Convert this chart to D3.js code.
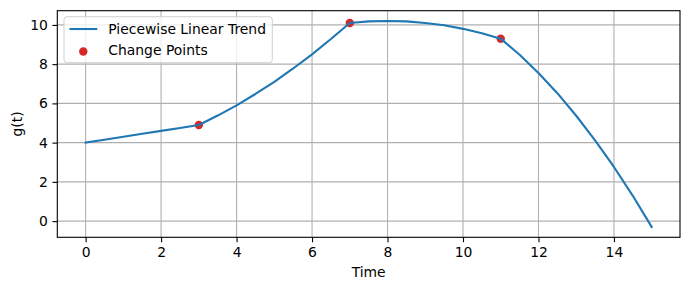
<!DOCTYPE html>
<html>
<head>
<meta charset="utf-8">
<script src="https://cdn.jsdelivr.net/npm/d3@7"></script>
<style>
  body { margin: 0; background: #fff; }
  text { font-family: "DejaVu Sans", sans-serif; }
</style>
</head>
<body>
<div id="chart"></div>
<script>
// trend values
var times = [0, 0.5, 1, 1.5, 2, 2.5, 3,
  3.5, 4, 4.5, 5, 5.5, 6, 6.5, 7,
  7.5, 8, 8.5, 9, 9.5, 10, 10.5, 11,
  11.5, 12, 12.5, 13, 13.5, 14, 14.5, 15];
var trend = [4.0, 4.15, 4.3, 4.45, 4.6, 4.75, 4.9,
  5.38, 5.9, 6.48, 7.1, 7.78, 8.5, 9.28, 10.1,
  10.18, 10.2, 10.18, 10.1, 9.98, 9.8, 9.58, 9.3,
  8.48, 7.55, 6.52, 5.37, 4.12, 2.76, 1.29, -0.3];

var changeTimes = [3, 7, 11];
var changeValues = [4.9, 10.1, 9.3];

var xTicks = [0, 2, 4, 6, 8, 10, 12, 14];
var yTicks = [0, 2, 4, 6, 8, 10];

var W = 690, H = 290;
var margin = { top: 10.7, right: 10, bottom: 52.7, left: 57.3 },
  width = W - margin.left - margin.right,
  height = H - margin.top - margin.bottom;

var svg = d3.select("#chart")
  .append("svg")
  .attr("width", W)
  .attr("height", H);

var g = svg.append("g")
  .attr("transform", "translate(" + margin.left + "," + margin.top + ")");

var x = d3.scaleLinear().domain([-0.75, 15.75]).range([0, width]);
var y = d3.scaleLinear().domain([-0.825, 10.725]).range([height, 0]);

// grid
g.selectAll(".gx").data(xTicks).enter().append("line")
  .attr("x1", function (d) { return x(d); })
  .attr("x2", function (d) { return x(d); })
  .attr("y1", 0).attr("y2", height)
  .attr("stroke", "#b0b0b0").attr("stroke-width", 1.1);
g.selectAll(".gy").data(yTicks).enter().append("line")
  .attr("y1", function (d) { return y(d); })
  .attr("y2", function (d) { return y(d); })
  .attr("x1", 0).attr("x2", width)
  .attr("stroke", "#b0b0b0").attr("stroke-width", 1.1);

// axes
var xAxis = g.append("g")
  .attr("transform", "translate(0," + height + ")")
  .call(d3.axisBottom(x).tickValues(xTicks).tickSize(4.9).tickPadding(4.5).tickFormat(d3.format("d")));
var yAxis = g.append("g")
  .call(d3.axisLeft(y).tickValues(yTicks).tickSize(4.9).tickPadding(4.5).tickFormat(d3.format("d")));
[xAxis, yAxis].forEach(function (a) {
  a.select(".domain").remove();
  a.selectAll("line").attr("stroke", "#000").attr("stroke-width", 1.1);
  a.selectAll("text").attr("font-size", "13.9px").attr("fill", "#000")
    .style("font-family", "DejaVu Sans, sans-serif");
});

// change points (under the line, like matplotlib's zorder)
g.selectAll(".cp").data(changeValues).enter().append("circle")
  .attr("cx", function (d, i) { return x(changeTimes[i]); })
  .attr("cy", function (d) { return y(d); })
  .attr("r", 4.2)
  .attr("fill", "#d62728");

// line
var line = d3.line()
  .x(function (d, i) { return x(times[i]); })
  .y(function (d) { return y(d); });
g.append("path")
  .datum(trend)
  .attr("d", line)
  .attr("fill", "none")
  .attr("stroke", "#1f77b4")
  .attr("stroke-width", 2.1)
  .attr("stroke-linejoin", "round")
  .attr("stroke-linecap", "square");

// frame
g.append("rect")
  .attr("width", width).attr("height", height)
  .attr("fill", "none").attr("stroke", "#000").attr("stroke-width", 1.1);

// axis labels
svg.append("text")
  .attr("x", margin.left + width / 2).attr("y", 276.5)
  .attr("text-anchor", "middle").attr("font-size", "13.9px")
  .text("Time");
svg.append("text")
  .attr("transform", "translate(22," + (margin.top + height / 2) + ") rotate(-90)")
  .attr("text-anchor", "middle").attr("font-size", "13.9px")
  .text("g(t)");

// legend
var lg = svg.append("g");
lg.append("rect")
  .attr("x", 64).attr("y", 16.7).attr("width", 208.3).attr("height", 46)
  .attr("rx", 3).attr("fill", "#fff").attr("fill-opacity", 0.8)
  .attr("stroke", "#d0d0d0").attr("stroke-width", 1);
lg.append("line")
  .attr("x1", 69.5).attr("x2", 97.3).attr("y1", 29).attr("y2", 29)
  .attr("stroke", "#1f77b4").attr("stroke-width", 2.1);
lg.append("text")
  .attr("x", 108.3).attr("y", 34).attr("font-size", "13.9px")
  .text("Piecewise Linear Trend");
lg.append("circle")
  .attr("cx", 83.3).attr("cy", 51.5).attr("r", 4.2).attr("fill", "#d62728");
lg.append("text")
  .attr("x", 108.3).attr("y", 54.5).attr("font-size", "13.9px")
  .text("Change Points");
</script>
</body>
</html>
